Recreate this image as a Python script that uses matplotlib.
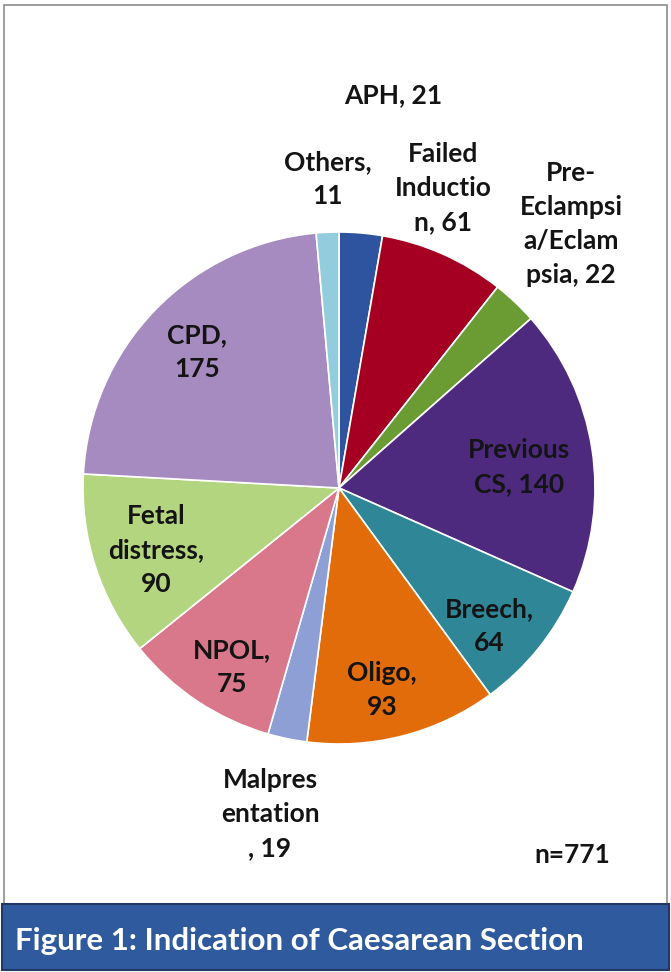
import matplotlib.pyplot as plt
from matplotlib.patches import Rectangle

# slices clockwise from 12 o'clock
categories = ['APH', 'Failed\nInductio\nn', 'Pre-\nEclampsi\na/Eclam\npsia', 'Previous\nCS',
              'Breech', 'Oligo', 'Malpres\nentation\n', 'NPOL', 'Fetal\ndistress', 'CPD', 'Others']
values = [21, 61, 22, 140, 64, 93, 19, 75, 90, 175, 11]
colors = ['#2E54A0', '#A50021', '#6A9C33', '#4E2A7F', '#2F8696', '#E36C0A',
          '#8E9FD5', '#D9778B', '#B4D57F', '#A68BC1', '#93CDDD']
total_n = 771

# label centres in pixels (x, y from top); True -> value on its own line
label_pos = [(393, 95), (443, 188), (571, 224), (519, 467), (489, 626), (382, 690),
             (270, 814), (232, 667), (156, 550), (197, 352), (328, 179)]
value_newline = [False, False, False, False, True, True, False, True, True, True, True]

W, H = 671, 972
fig = plt.figure(figsize=(W / 100, H / 100), dpi=100)
fig.patch.set_facecolor('white')

# outer frame (behind the pie)
fig.patches.append(Rectangle((4 / W, 1 - 905 / H), 663 / W, 900 / H, transform=fig.transFigure,
                             facecolor='white', edgecolor='#8c8c8c', lw=1.2, zorder=-5))
# caption banner
fig.patches.append(Rectangle((2 / W, 0.002), 667 / W, 66 / H, transform=fig.transFigure,
                             facecolor='#2F5B9E', edgecolor='#1F3864', lw=1.5, zorder=-5))
fig.text(15 / W, 1 - 941 / H, 'Figure 1: Indication of Caesarean Section', color='white',
         fontsize=22.5, fontweight='bold', family='Lato', va='center', ha='left')

cx, cy, r = 339, 488, 256
ax = fig.add_axes([(cx - r) / W, 1 - (cy + r) / H, 2 * r / W, 2 * r / H])
ax.pie(values, colors=colors, startangle=90, counterclock=False,
       wedgeprops=dict(edgecolor='white', linewidth=1.2))
ax.set_aspect('auto')
ax.set_xlim(-1, 1)
ax.set_ylim(-1, 1)

for name, v, (px, py), nl in zip(categories, values, label_pos, value_newline):
    txt = f'{name},\n{v}' if nl else f'{name}, {v}'
    fig.text(px / W, 1 - py / H, txt, ha='center', va='center', fontsize=19,
             fontweight='bold', family='Lato', color='#141414', linespacing=1.5)

fig.text(572 / W, 1 - 855 / H, f'n={total_n}', ha='center', va='center', fontsize=19,
         fontweight='bold', family='Lato', color='#141414')

fig.savefig('out.png', dpi=100)
